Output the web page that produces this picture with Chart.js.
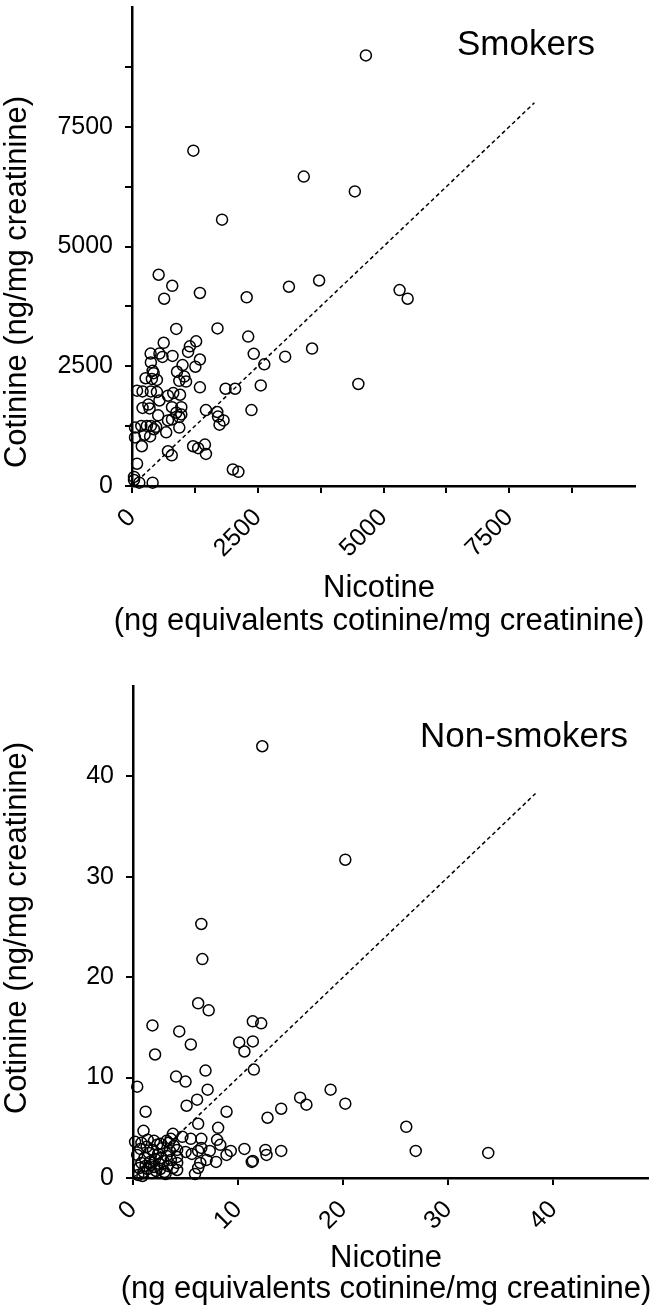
<!DOCTYPE html>
<html lang="en">
<head>
    <meta charset="UTF-8">
    <title>Nicotine vs Cotinine</title>
    <script src="https://cdn.jsdelivr.net/npm/chart.js@4.4.1/dist/chart.umd.min.js"></script>
    <style>
        body { margin: 0; background: #fff; }
        canvas { display: block; }
    </style>
</head>
<body>
    <canvas id="smokersChart" width="661" height="650"></canvas>
    <canvas id="nonSmokersChart" width="661" height="661"></canvas>

    <script>
        // Smokers (ng/mg creatinine)
        const smokersNicotine = [4650, 1220, 3415, 4430, 1790, 530, 800, 640, 1350, 2280, 3120, 3720, 5320, 5480, 880, 1700,
            2310, 3580, 2420, 3045, 2630, 2560, 4500, 2375, 1860, 2050, 1470, 1695, 1710, 1820, 1740, 1215, 1315, 1450, 1470, 2005, 2115,
            1275, 1150, 1115, 1350, 1260, 1350, 630, 370, 545, 605, 805, 375, 410, 430, 270, 395, 495, 1005, 895, 1040, 940, 1075,
            100, 210, 375, 495, 715, 820, 955, 545, 210, 325, 350, 795, 980, 520, 880, 980, 940, 715, 795,
            60, 185, 295, 375, 480, 435, 680, 940, 60, 250, 360, 195, 715, 790, 100, 40, 40, 145, 410];
        const smokersCotinine = [8990, 7000, 6460, 6150, 5560, 4410, 4180, 3910, 4030, 3940, 4160, 4290, 4090, 3910, 3280, 3290,
            3120, 2870, 2760, 2700, 2540, 2100, 2130, 1585, 2030, 2030, 1585, 1545, 1450, 1370, 1280, 830, 790, 865, 670, 345, 295,
            3020, 2915, 2800, 2640, 2490, 2060, 2990, 2765, 2765, 2695, 2715, 2580, 2405, 2355, 2250, 2235, 2215, 2525, 2385, 2285, 2195, 2180,
            1990, 1975, 1975, 1960, 1885, 1940, 1905, 1785, 1630, 1700, 1620, 1645, 1645, 1475, 1530, 1495, 1440, 1370, 1390,
            1220, 1255, 1255, 1255, 1235, 1185, 1120, 1220, 1015, 1070, 1035, 830, 725, 640, 465, 190, 125, 70, 70];
        const smokersLine = [0, 8000];
        const smokersTickLabels = [0, 2500, 5000, 7500];

        // Non-smokers (ng/mg creatinine)
        const nonSmokersNicotine = [12.3, 20.2, 6.5, 6.6, 6.2, 7.2, 1.85, 4.4, 11.4, 12.2, 2.1, 5.5, 10.1, 10.6, 11.4, 11.5, 6.9, 4.1,
            5.0, 7.1, 0.4, 6.1, 5.1, 1.2, 8.9, 18.8, 15.9, 16.5, 20.2, 14.1, 12.8, 26.0, 26.9, 33.8, 6.2, 8.1, 1.0, 3.8, 4.7, 5.5,
            6.5, 8.0, 8.3, 0.2, 0.8, 1.4, 2.0, 2.6, 3.2, 3.6, 10.6, 9.3, 8.9, 7.3, 6.2, 5.6, 5.0, 6.5, 12.6, 12.7, 14.1, 11.4, 11.3,
            7.9, 7.0, 6.4, 6.2, 5.9, 4.2, 4.2, 4.2, 4.2,
            0.5, 0.6, 0.8, 1.0, 1.1, 1.2, 1.4, 1.5, 1.6, 1.8, 1.9, 2.0, 2.1, 2.2, 2.4, 2.5, 2.6, 2.8, 2.9, 3.0, 3.2, 3.3, 3.5, 3.6,
            3.8, 0.4, 0.7, 1.3, 2.3, 3.9, 0.9, 1.7, 2.7, 3.1, 3.4];
        const nonSmokersCotinine = [43.0, 31.7, 25.3, 21.8, 17.4, 16.7, 15.2, 14.6, 15.6, 15.4, 12.3, 13.3, 13.5, 12.6, 13.6, 10.8, 10.7, 10.1,
            9.6, 8.8, 9.1, 7.8, 7.2, 6.6, 6.6, 8.8, 8.0, 7.3, 7.4, 6.9, 6.0, 5.1, 2.7, 2.5, 5.4, 5.0, 4.7, 4.4, 4.1, 3.9,
            3.9, 3.8, 3.3, 3.6, 3.5, 3.8, 3.7, 3.4, 3.7, 3.9, 2.9, 2.7, 2.3, 2.7, 2.7, 2.4, 2.6, 3.0, 2.8, 2.3, 2.7, 1.7, 1.6,
            1.6, 1.8, 1.5, 1.0, 0.4, 2.8, 2.1, 1.5, 0.8,
            0.3, 1.0, 1.5, 0.6, 2.0, 1.2, 0.9, 2.5, 1.6, 0.5, 2.8, 1.1, 1.9, 0.7, 2.4, 1.4, 0.9, 3.0, 1.7, 0.6, 2.2, 1.2, 2.7, 1.8,
            1.0, 2.3, 2.9, 3.1, 3.3, 3.2, 0.2, 1.3, 2.0, 0.4, 3.5];
        const nonSmokersLine = [0, 38.3];
        const nonSmokersTickLabels = [0, 10, 20, 30, 40];

        const yTitle = 'Cotinine (ng/mg creatinine)';
        const xTitle1 = 'Nicotine';
        const xTitle2 = '(ng equivalents cotinine/mg creatinine)';

        const FONT = '"Liberation Sans", Arial, Helvetica, sans-serif';
        Chart.defaults.font.family = FONT;
        Chart.defaults.color = '#000';

        // titles drawn by hand so they sit where the original puts them
        function textPlugin(o) {
            return {
                id: 'texts',
                afterDraw(chart) {
                    const ctx = chart.ctx;
                    ctx.save();
                    ctx.fillStyle = '#000';
                    ctx.textBaseline = 'alphabetic';
                    ctx.font = '35px ' + FONT;
                    ctx.textAlign = 'left';
                    ctx.fillText(o.title, o.titleX, o.titleY);
                    ctx.font = '31px ' + FONT;
                    ctx.textAlign = 'center';
                    ctx.fillText(xTitle1, o.xCenter, o.xBase1);
                    ctx.fillText(xTitle2, o.xCenter, o.xBase2);
                    ctx.translate(26, o.yCenter);
                    ctx.rotate(-Math.PI / 2);
                    ctx.fillText(yTitle, 0, 0);
                    ctx.restore();
                }
            };
        }

        function axis(max, step, labels, size, isX) {
            return {
                type: 'linear',
                min: 0,
                max: max,
                afterBuildTicks: (scale) => { scale.ticks = scale.ticks.filter(t => t.value < max - 0.01); },
                afterFit: (scale) => {
                    if (isX) {
                        scale.height = size;
                    } else {
                        scale.width = size;
                        scale.paddingTop = 0;
                        scale.paddingBottom = 0;
                    }
                },
                border: { display: true, color: '#000', width: 2.5 },
                grid: { display: true, drawOnChartArea: false, drawTicks: true, tickLength: 7, color: '#000', lineWidth: 2 },
                ticks: {
                    stepSize: step,
                    autoSkip: false,
                    padding: isX ? 10 : 12,
                    minRotation: isX ? 45 : 0,
                    maxRotation: isX ? 45 : 0,
                    font: { size: 25 },
                    color: '#000',
                    callback: (v) => labels.includes(v) ? String(v) : ''
                },
                title: { display: false }
            };
        }

        function makeChart(id, xs, ys, line, cfg) {
            const points = xs.map((x, i) => ({ x: x, y: ys[i] }));
            return new Chart(document.getElementById(id), {
                type: 'scatter',
                data: {
                    datasets: [{
                        data: points,
                        pointStyle: 'circle',
                        pointRadius: 5.5,
                        backgroundColor: 'rgba(0,0,0,0)',
                        borderColor: '#000',
                        borderWidth: 1.5,
                        clip: false
                    }, {
                        type: 'line',
                        data: line.map(v => ({ x: v, y: v })),
                        showLine: true,
                        borderColor: '#000',
                        borderWidth: 1.5,
                        borderDash: [4, 3],
                        pointRadius: 0,
                        fill: false
                    }]
                },
                options: {
                    responsive: false,
                    animation: false,
                    events: [],
                    layout: { padding: cfg.padding },
                    plugins: { legend: { display: false }, tooltip: { enabled: false } },
                    scales: {
                        x: axis(cfg.max, cfg.step, cfg.labels, cfg.xHeight, true),
                        y: axis(cfg.max, cfg.step, cfg.labels, cfg.yWidth, false)
                    }
                },
                plugins: [textPlugin(cfg.texts)]
            });
        }

        const smokersChart = makeChart('smokersChart', smokersNicotine, smokersCotinine, smokersLine, {
            max: 10000, step: 1250, labels: smokersTickLabels,
            padding: { left: 0, top: 0, right: 26, bottom: 0 },
            yWidth: 132, xHeight: 164,
            texts: { title: 'Smokers', titleX: 457, titleY: 55, xCenter: 379, xBase1: 597, xBase2: 630, yCenter: 282 }
        });
        // pull the plot area up to the canvas top edge if the layout left a gap
        if (smokersChart.chartArea.top > 0) {
            smokersChart.options.layout.padding.top = -smokersChart.chartArea.top;
            smokersChart.update();
        }

        makeChart('nonSmokersChart', nonSmokersNicotine, nonSmokersCotinine, nonSmokersLine, {
            max: 49, step: 10, labels: nonSmokersTickLabels,
            padding: { left: 0, top: 36, right: 13, bottom: 0 },
            yWidth: 133, xHeight: 133,
            texts: { title: 'Non-smokers', titleX: 420, titleY: 97, xCenter: 386, xBase1: 617, xBase2: 648, yCenter: 278 }
        });
    </script>
</body>
</html>
